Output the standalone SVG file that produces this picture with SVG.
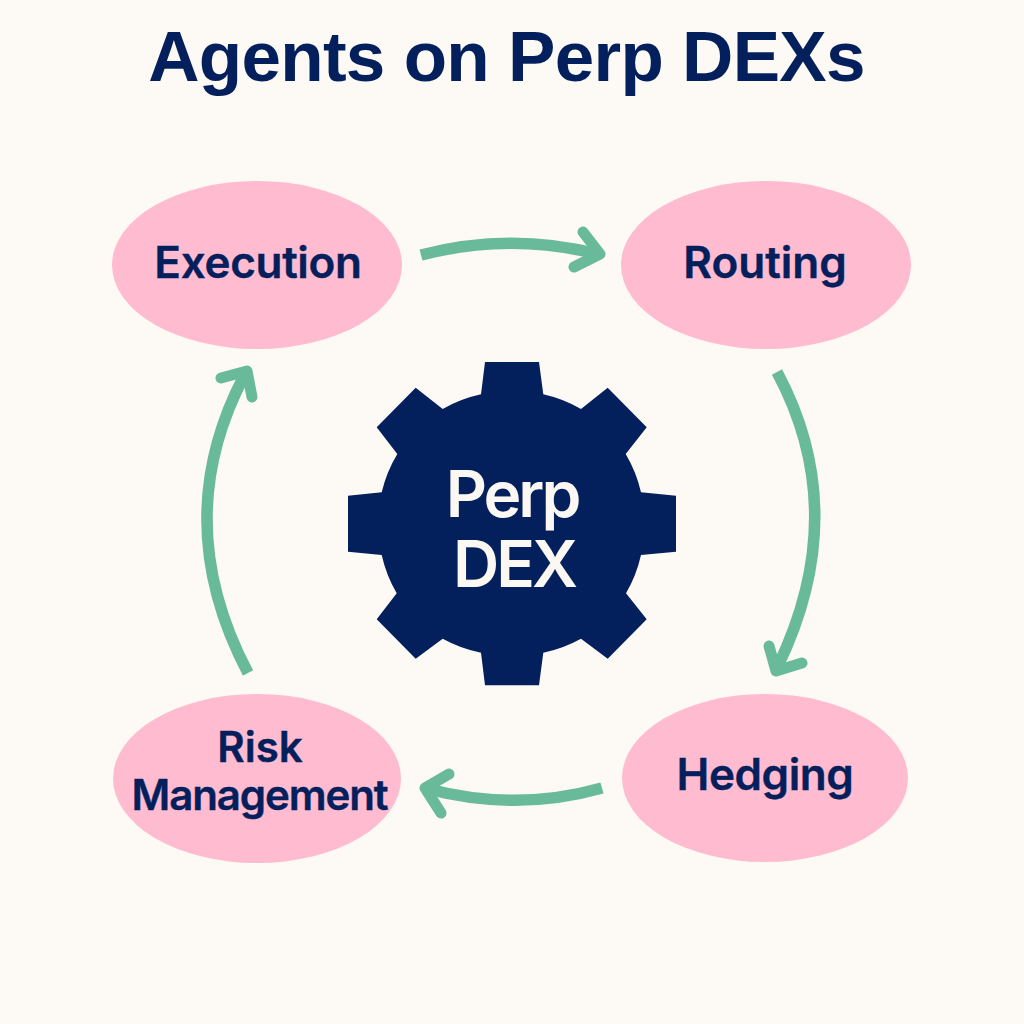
<svg xmlns="http://www.w3.org/2000/svg" width="1024" height="1024" viewBox="0 0 1024 1024">
<style>
.n{fill:#ffbbcf}
.t{font-family:"Inter","Liberation Sans",sans-serif;font-weight:600;fill:#04205c;text-anchor:middle;font-size:44px;stroke:#04205c;stroke-width:.4}
.p{font-family:"Inter","Liberation Sans",sans-serif;font-weight:600;font-size:64px;fill:#fbf7f2;text-anchor:middle;letter-spacing:-3px}
.c{fill:none;stroke:#68ba9b;stroke-width:11.5}
.a{fill:none;stroke:#68ba9b;stroke-width:11;stroke-linecap:round;stroke-linejoin:round}
</style>
<rect width="1024" height="1024" fill="#fdf9f5"/>
<text x="506.500" y="81" font-family="'Liberation Sans',sans-serif" font-weight="700" font-size="71" fill="#04205c" text-anchor="middle" letter-spacing="-.7">Agents on Perp DEXs</text>
<g id="connectors">
<path class="c" d="M421 255Q510 232 597 254"/><path class="a" d="M583 232L600 254L574 267"/>
<path class="c" d="M777 372Q852 512 778 666"/><path class="a" d="M769 646L776 671L802 663"/>
<path class="c" d="M602 788Q517 812 428 789"/><path class="a" d="M449 774L425 788L441 813"/>
<path class="c" d="M248 673Q168 521 244 376"/><path class="a" d="M221 378L247 371L252 397"/>
</g>
<g id="execution"><ellipse class="n" cx="257" cy="265" rx="145" ry="84"/><text class="t" x="258" y="278" style="letter-spacing:-.3px">Execution</text></g>
<g id="routing"><ellipse class="n" cx="766" cy="265" rx="145" ry="84"/><text class="t" x="765" y="278">Routing</text></g>
<g id="hedging"><ellipse class="n" cx="765" cy="778" rx="143" ry="84"/><text class="t" x="765" y="790" style="letter-spacing:-.4px">Hedging</text></g>
<g id="risk"><ellipse class="n" cx="257" cy="778.5" rx="144" ry="84.5"/><text class="t" x="260" y="762" style="font-size:42px">Risk</text><text class="t" x="259.500" y="810" style="font-size:42px;letter-spacing:-1.1px">Management</text></g>
<g id="perp-dex">
<path fill="#04205c" d="M485 362H539L543.300 394.300A134 134 0 0 1 581 409L607.700 387.700L646.700 427.300L625.700 454A134 134 0 0 1 641 492.300L676 495.700V551.700L641 555A134 134 0 0 1 626 593.300L646.700 619.300L607.700 658.700L581 638.700A134 134 0 0 1 543.300 652.700L539 685.300H485L481 652.700A134 134 0 0 1 442.700 638.700L415.700 658.700L376.700 619.300L396.700 593.300A134 134 0 0 1 381.700 555L348 551.700V495.700L381.700 492.300A134 134 0 0 1 397.300 454L376.700 427.300L415.700 387.700L442.700 409A134 134 0 0 1 481 394.300Z"/>
<text class="p" x="512" y="517">Perp</text>
<text class="p" x="514" y="587">DEX</text>
</g>
</svg>
